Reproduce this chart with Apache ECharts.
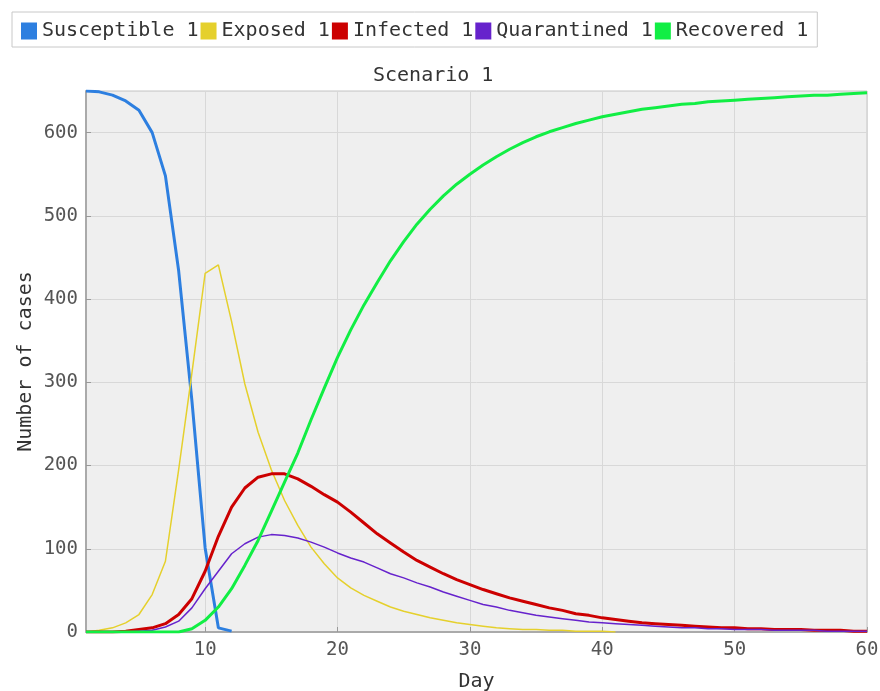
<!DOCTYPE html>
<html>
<head>
<meta charset="utf-8">
<script src="https://cdn.jsdelivr.net/npm/echarts@6/dist/echarts.min.js"></script>
<style>html,body{margin:0;padding:0;background:#fff;}#c{width:880px;height:691px;}</style>
</head>
<body>
<div id="c"></div>
<script>
const days = [1,2,3,4,5,6,7,8,9,10,11,12,13,14,15,16,17,18,19,20,21,22,23,24,25,26,27,28,29,30,31,32,33,34,35,36,37,38,39,40,41,42,43,44,45,46,47,48,49,50,51,52,53,54,55,56,57,58,59,60];
const xTicks = [10,20,30,40,50,60];
const yTicks = [0,100,200,300,400,500,600];
const susceptible = [650,649,645,638,627,600,548,434,278,101,5,1,null,null,null,null,null,null,null,null,null,null,null,null,null,null,null,null,null,null,null,null,null,null,null,null,null,null,null,null,null,null,null,null,null,null,null,null,null,null,null,null,null,null,null,null,null,null,null,null];
const exposed = [0,2,5,11,21,45,85,195,311,431,441,373,298,240,195,158,128,102,82,65,53,44,37,30,25,21,17,14,11,9,7,5,4,3,3,2,2,1,1,1,0,null,null,null,null,null,null,null,null,null,null,null,null,null,null,null,null,null,null,null];
const infected = [0,0,0,1,3,5,10,21,40,73,115,150,173,186,190,190,184,175,165,156,144,131,118,107,96,86,78,70,63,57,51,46,41,37,33,29,26,22,20,17,15,13,11,10,9,8,7,6,5,5,4,4,3,3,3,2,2,2,1,1];
const quarantined = [0,0,0,0,1,2,6,13,29,52,73,94,106,114,117,116,113,108,102,95,89,84,77,70,65,59,54,48,43,38,33,30,26,23,20,18,16,14,12,11,10,9,8,7,6,5,5,4,4,3,3,3,2,2,2,2,1,1,1,1];
const recovered = [0,0,0,0,0,0,0,0,4,14,30,52,80,110,145,180,215,255,293,330,363,393,420,446,469,490,508,524,538,550,561,571,580,588,595,601,606,611,615,619,622,625,628,630,632,634,635,637,638,639,640,641,642,643,644,645,645,646,647,648];
const seriesNames = ['Susceptible 1','Exposed 1','Infected 1','Quarantined 1','Recovered 1'];
const seriesColors = ['#2d7fe0','#e5d02c','#cc0000','#6622cc','#11ee44'];
const seriesWidths = [3,1.5,3,1.5,3];
const seriesData = [susceptible, exposed, infected, quarantined, recovered];

const font = 'DejaVu Sans Mono, Liberation Mono, monospace';
const chart = echarts.init(document.getElementById('c'), null, {renderer:'canvas'});
chart.setOption({
  animation:false,
  backgroundColor:'#ffffff',
  color: seriesColors,
  title:{
    text:'Scenario 1', left:368, top:61,
    textStyle:{fontFamily:font, fontSize:20, fontWeight:'normal', color:'#333'}
  },
  legend:{
    left:12, top:12, padding:[9,9,6,9], itemGap:2,
    borderColor:'#c8c8c8', borderWidth:1,
    icon:'rect', itemWidth:16, itemHeight:17,
    textStyle:{fontFamily:font, fontSize:20, color:'#333'},
    data: seriesNames
  },
  grid:{left:86, right:13, top:91, bottom:59, show:true, backgroundColor:'#efefef', borderColor:'#c4c4c4', borderWidth:1, containLabel:false, outerBoundsMode:'none'},
  xAxis:{
    type:'value', min:1, max:60,
    name:'Day', nameLocation:'middle', nameGap:40,
    nameTextStyle:{fontFamily:font, fontSize:20, color:'#333'},
    axisLine:{show:true, lineStyle:{color:'#aaaaaa', width:2}},
    axisTick:{show:true, inside:true, length:5, lineStyle:{color:'#999'}, customValues:xTicks},
    axisLabel:{fontFamily:font, fontSize:19, color:'#555', margin:9, customValues:xTicks},
    splitLine:{show:true, lineStyle:{color:'#d8d8d8', width:1}}
  },
  yAxis:{
    type:'value', min:0, max:650, interval:100,
    name:'Number of cases', nameLocation:'middle', nameGap:50, nameMoveOverlap:false,
    nameTextStyle:{fontFamily:font, fontSize:20, color:'#333'},
    axisLine:{show:true, lineStyle:{color:'#aaaaaa', width:2}},
    axisTick:{show:true, inside:true, length:5, lineStyle:{color:'#999'}},
    axisLabel:{fontFamily:font, fontSize:19, color:'#555', margin:8, showMaxLabel:false},
    splitLine:{show:true, lineStyle:{color:'#d8d8d8', width:1}}
  },
  series: seriesNames.map((n,i)=>({
    name:n, type:'line', showSymbol:false, symbol:'none',
    lineStyle:{width:seriesWidths[i], color:seriesColors[i]},
    itemStyle:{color:seriesColors[i]},
    data: days.map((d,j)=>[d, seriesData[i][j]]),
    connectNulls:false, z: 2+i
  }))
});
</script>
</body>
</html>
